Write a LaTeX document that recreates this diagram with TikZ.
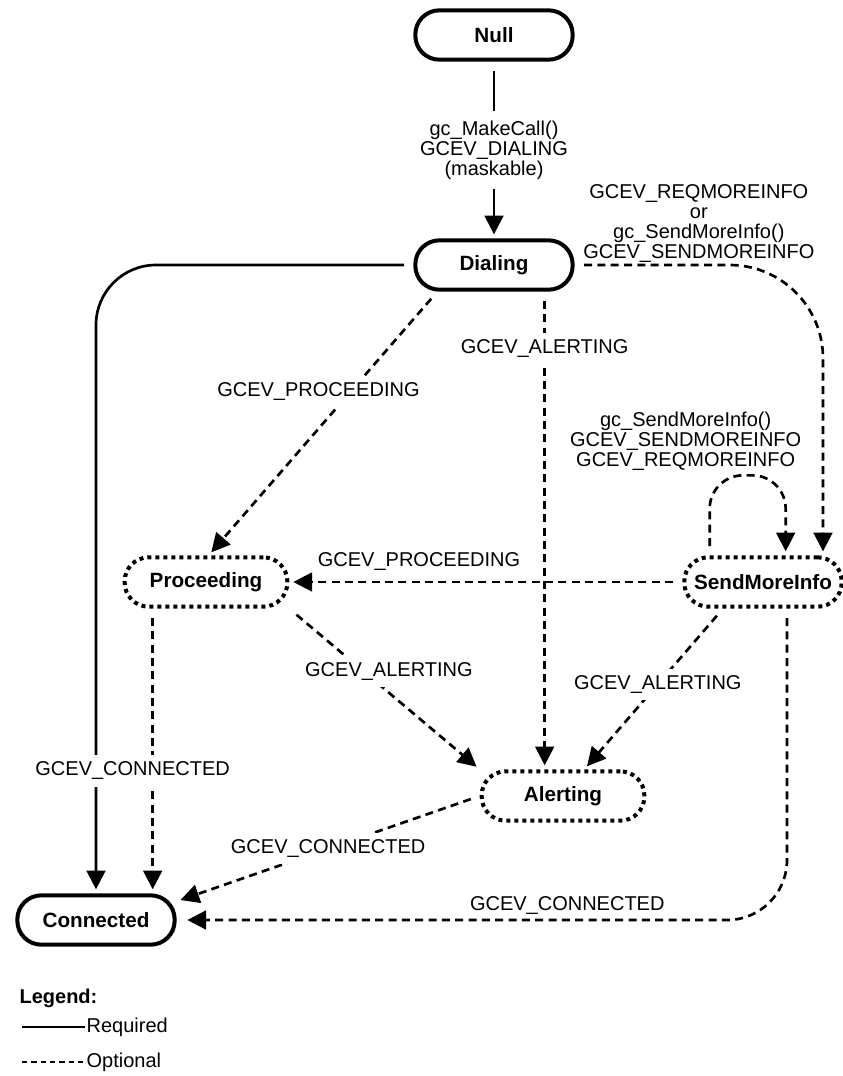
\documentclass[tikz,border=0pt]{standalone}
\usepackage{fontspec}
\setmainfont{Liberation Sans}
\usetikzlibrary{arrows.meta}

\tikzset{
  state/.style={draw, line width=3pt, rounded corners=18pt, minimum width=118pt,
    minimum height=37pt, inner xsep=2pt, font=\fontsize{15.5pt}{15pt}\bfseries},
  optstate/.style={state, dash pattern=on 3pt off 3pt},
  req/.style={line width=2pt, -{Triangle[length=14pt,width=14pt]},
    shorten >=3pt, shorten <=7pt},
  opt/.style={req, dash pattern=on 6pt off 4pt},
  lbl/.style={align=center, inner sep=1pt, font=\fontsize{15pt}{15pt}\selectfont},
  cut/.style={lbl, fill=white, inner sep=5pt},
}

\begin{document}
\begin{tikzpicture}[x=0.75pt, y=-0.75pt]
    \useasboundingbox (0,0) rectangle (843,1076);

    \node[state] (null) at (494,35) {Null};
    \node[state] (dial) at (494,265) {Dialing};
    \node[optstate, minimum width=122pt] (proc) at (206,582) {Proceeding};
    \node[optstate] (send) at (763,582) {SendMoreInfo};
    \node[optstate, minimum width=122pt] (alert) at (563,796) {Alerting};
    \node[state] (conn) at (96,920) {Connected};

    \draw[req]
    (null) -- node[cut, inner ysep=7pt]{gc\_MakeCall()\\GCEV\_DIALING\\(maskable)} (dial);
    \draw[req, rounded corners=45pt]
    (dial.west) -| (conn.north);
    \draw[opt]
    ([xshift=-40pt]proc.south) -- ([xshift=-40pt]proc.south |- conn.north)
    node[cut, pos=0.57, xshift=-15pt]{GCEV\_CONNECTED};
    \draw[opt]
    ([xshift=18pt]dial.south west) -- ([xshift=2pt]proc.north)
    node[cut, pos=0.38, xshift=-24pt]{GCEV\_PROCEEDING};
    \draw[opt]
    ([xshift=38pt]dial.south) -- ([xshift=38pt]dial.south |- alert.north)
    node[cut, pos=0.12]{GCEV\_ALERTING};
    \draw[opt, rounded corners=70pt]
    (dial.east) -| ([xshift=45pt]send.north)
    node[lbl, pos=0.25, above]{GCEV\_REQMOREINFO\\or\\gc\_SendMoreInfo()\\GCEV\_SENDMOREINFO};
    \draw[opt, rounded corners=25pt]
    ([xshift=-40pt]send.north) -- ++(0,-80)
    node[lbl, above=2pt, xshift=-18pt]{gc\_SendMoreInfo()\\GCEV\_SENDMOREINFO\\GCEV\_REQMOREINFO}
    -| ([xshift=17pt]send.north);
    \draw[opt]
    (send) -- node[lbl, pos=0.67, above=7pt]{GCEV\_PROCEEDING} (proc);
    \draw[opt]
    (proc.south east) -- (alert.north west)
    node[cut, pos=0.39, xshift=19pt]{GCEV\_ALERTING};
    \draw[opt]
    ([xshift=-30pt]send.south) -- ([xshift=16pt]alert.north)
    node[cut, pos=0.47]{GCEV\_ALERTING};
    \draw[opt]
    (alert.west) -- ([yshift=14pt]conn.east)
    node[cut, pos=0.5]{GCEV\_CONNECTED};
    \draw[opt, rounded corners=45pt, shorten >=8pt]
    ([xshift=18pt]send.south) |- (conn.east)
    node[lbl, pos=0.68, above=2pt]{GCEV\_CONNECTED};

    % legend
    \node[lbl, anchor=west, font=\fontsize{15pt}{15pt}\bfseries] (leg) at (18,998) {Legend:};
    \node[lbl, anchor=west] (reqtxt) at (85,1027) {Required};
    \node[lbl, anchor=west] (opttxt) at (85,1062) {Optional};
    \coordinate (reqa) at (22,1027);
    \coordinate (opta) at (22,1062);
    \draw[line width=1.5pt] (reqa) -- (reqtxt.west);
    \draw[line width=1.5pt, dash pattern=on 4pt off 3pt] (opta) -- (opttxt.west);
\end{tikzpicture}
\end{document}
